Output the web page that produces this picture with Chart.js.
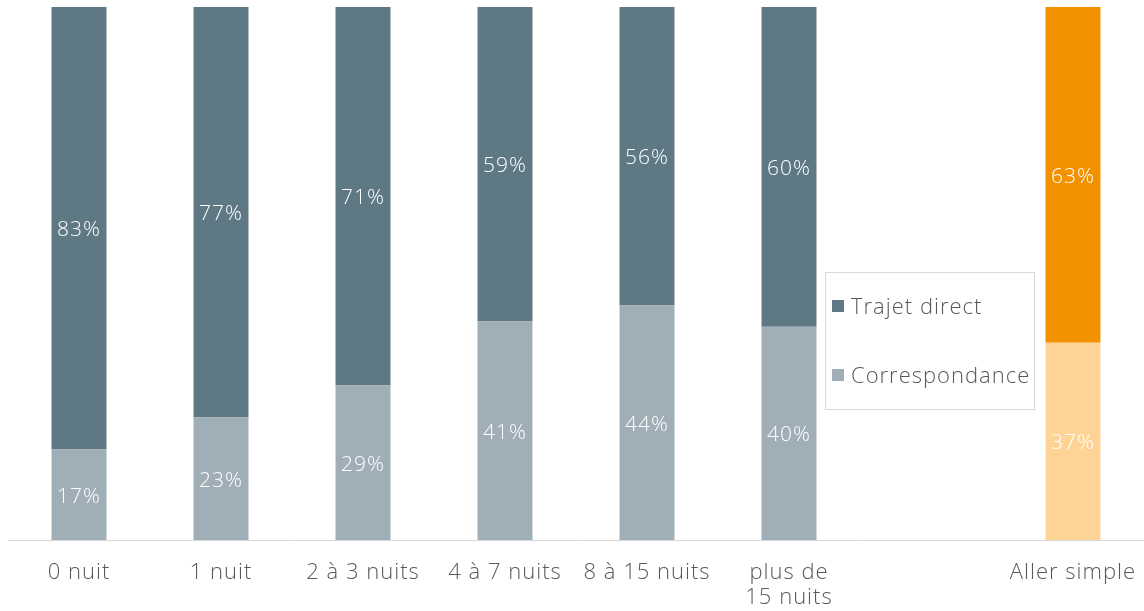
<!DOCTYPE html>
<html>
<head>
<meta charset="utf-8">
<script src="https://cdn.jsdelivr.net/npm/chart.js@4"></script>
<style>
html,body{margin:0;padding:0;background:#fff;}
#wrap{width:1144px;height:611px;position:relative;}
</style>
</head>
<body>
<div id="wrap"><canvas id="c"></canvas></div>
<script>
const categories = ['0 nuit', '1 nuit', '2 à 3 nuits', '4 à 7 nuits', '8 à 15 nuits', ['plus de', '15 nuits'], '', 'Aller simple'];
const trajetDirect = [83, 77, 71, 59, 56, 60, null, 63];
const correspondance = [17, 23, 29, 41, 44, 40, null, 37];
const seriesNames = ['Trajet direct', 'Correspondance'];

const FONT = "'Open Sans', 'DejaVu Sans', sans-serif";
const darkCol = '#5e7884', lightCol = '#a0aeb7', orangeCol = '#f39200', lightOrangeCol = '#fed496';
const directColors = categories.map((c, i) => i === 7 ? orangeCol : darkCol);
const corrColors = categories.map((c, i) => i === 7 ? lightOrangeCol : lightCol);

const spacingPlugin = {
  id: 'spacing',
  beforeUpdate(chart) { chart.ctx.letterSpacing = '1px'; },
  beforeDraw(chart) { chart.ctx.letterSpacing = '1px'; }
};

const labelPlugin = {
  id: 'segLabels',
  afterDatasetsDraw(chart) {
    const ctx = chart.ctx;
    ctx.save();
    ctx.letterSpacing = '1px';
    ctx.fillStyle = '#ffffff';
    ctx.font = '300 21px ' + FONT;
    ctx.textAlign = 'center';
    ctx.textBaseline = 'middle';
    chart.data.datasets.forEach((ds, di) => {
      const meta = chart.getDatasetMeta(di);
      meta.data.forEach((el, i) => {
        const v = ds.data[i];
        if (v == null) return;
        const y = (el.y + el.base) / 2 + 2;
        ctx.fillText(v + '%', el.x, y);
      });
    });
    ctx.restore();
  }
};

const legendPlugin = {
  id: 'innerLegend',
  afterDraw(chart) {
    const ctx = chart.ctx;
    const xs = chart.scales.x;
    const cx = xs.getPixelForValue(6);
    const w = 209, h = 137;
    const left = cx - w / 2 - 2, top = 272;
    ctx.save();
    ctx.letterSpacing = '1px';
    ctx.strokeStyle = '#d9d9d9';
    ctx.lineWidth = 1;
    ctx.strokeRect(Math.round(left) + 0.5, top + 0.5, w, h);
    const order = [1, 0];
    const ys = [306, 375];
    ctx.font = '300 22px ' + FONT;
    ctx.textBaseline = 'middle';
    ctx.textAlign = 'left';
    order.forEach((di, k) => {
      const ds = chart.data.datasets[di];
      ctx.fillStyle = ds.backgroundColor[0];
      ctx.fillRect(Math.round(left) + 7, ys[k] - 6, 12, 12);
      ctx.fillStyle = '#595959';
      ctx.fillText(ds.label, Math.round(left) + 26, ys[k] + 2);
    });
    ctx.restore();
  }
};

new Chart(document.getElementById('c'), {
  type: 'bar',
  data: {
    labels: categories,
    datasets: [
      { label: seriesNames[1], data: correspondance, backgroundColor: corrColors, stack: 's' },
      { label: seriesNames[0], data: trajetDirect, backgroundColor: directColors, stack: 's' }
    ]
  },
  options: {
    responsive: true,
    maintainAspectRatio: false,
    animation: false,
    categoryPercentage: 1,
    barPercentage: 0.387,
    layout: { padding: { left: 8, right: 0, top: 7, bottom: 0 } },
    plugins: { legend: { display: false }, tooltip: { enabled: false } },
    scales: {
      x: {
        stacked: true,
        grid: { display: false, drawTicks: false },
        border: { display: true, color: '#d9d9d9', width: 1 },
        ticks: { color: '#595959', font: { family: FONT, size: 22, weight: 300, lineHeight: 1.15 }, padding: 20, autoSkip: false, maxRotation: 0 },
        afterFit(scale) {
          scale.height = 71;
          scale.paddingLeft = 0; scale.paddingRight = 0;
          scale.paddingTop = 0; scale.paddingBottom = 0;
        }
      },
      y: {
        stacked: true, display: false, min: 0, max: 100
      }
    }
  },
  plugins: [spacingPlugin, labelPlugin, legendPlugin]
});
</script>
</body>
</html>
